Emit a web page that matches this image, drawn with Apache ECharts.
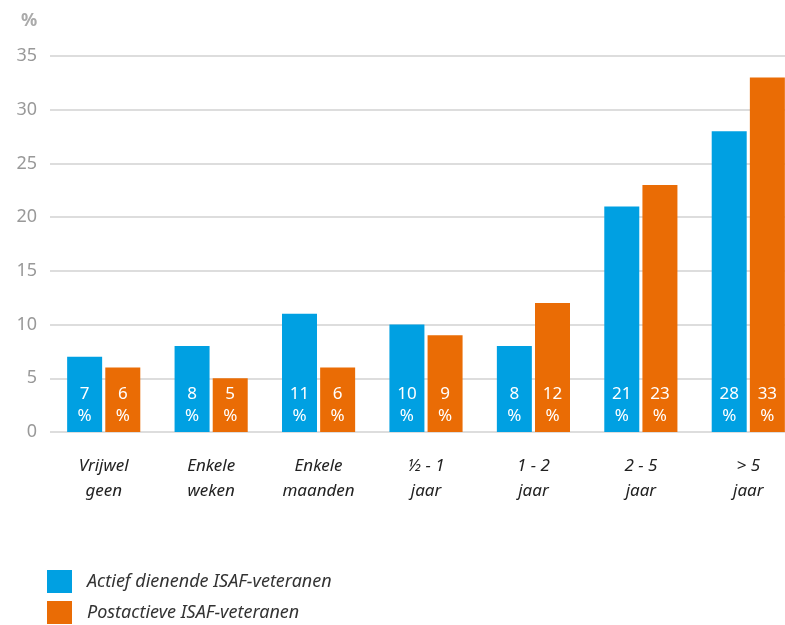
<!DOCTYPE html>
<html>
<head>
    <meta charset="utf-8">
    <title>ISAF-veteranen</title>
    <script src="https://cdn.jsdelivr.net/npm/echarts@6/dist/echarts.min.js"></script>
</head>
<body style="margin:0;background:#fff;">
<div id="main" style="width: 785px;height:625px;"></div>
<script type="text/javascript">
    // categorieën en waarden (%)
    var categories = ['Vrijwel\ngeen', 'Enkele\nweken', 'Enkele\nmaanden', '\u00bd - 1\njaar', '1 - 2\njaar', '2 - 5\njaar', '> 5\njaar'];
    var actief = [7, 8, 11, 10, 8, 21, 28];
    var postactief = [6, 5, 6, 9, 12, 23, 33];
    var yTicks = [0, 5, 10, 15, 20, 25, 30, 35];

    var myChart = echarts.init(document.getElementById('main'));

    var barLabel = {
        show: true,
        position: 'insideBottom',
        distance: 5,
        color: '#fff',
        fontSize: 17,
        lineHeight: 22,
        fontFamily: 'Noto Sans',
        formatter: function (p) { return p.value + '\n%'; }
    };

    var option = {
        animation: false,
        textStyle: { fontFamily: 'Noto Sans' },
        graphic: [{
            type: 'text',
            left: 21,
            top: 12,
            style: { text: '%', fill: '#aaa', font: 'bold 18px "Noto Sans"' }
        }],
        grid: { left: 50, width: 752, top: 56, bottom: 193, outerBoundsMode: 'none', containLabel: false },
        legend: {
            orient: 'vertical',
            left: 47,
            top: 570,
            padding: 0,
            icon: 'rect',
            itemWidth: 25,
            itemHeight: 23,
            itemGap: 8,
            textStyle: { fontSize: 18, fontStyle: 'italic', color: '#333', padding: [0, 0, 0, 10] },
            data: ['Actief dienende ISAF-veteranen', 'Postactieve ISAF-veteranen']
        },
        xAxis: {
            type: 'category',
            data: categories,
            axisLine: { show: false },
            axisTick: { show: false },
            axisLabel: {
                color: '#222',
                fontSize: 17,
                fontStyle: 'italic',
                lineHeight: 25,
                margin: 22
            }
        },
        yAxis: {
            type: 'value',
            min: 0,
            max: 35,
            interval: 5,
            axisLine: { show: false },
            axisTick: { show: false },
            splitLine: { lineStyle: { color: '#ddd', width: 2 } },
            axisLabel: {
                color: '#999',
                fontSize: 18,
                margin: 13,
                formatter: function (v) { return yTicks.indexOf(v) >= 0 ? String(v) : ''; }
            }
        },
        series: [{
            name: 'Actief dienende ISAF-veteranen',
            type: 'bar',
            data: actief,
            barWidth: 35,
            barGap: '9%',
            itemStyle: { color: '#00A0E2' },
            label: barLabel
        }, {
            name: 'Postactieve ISAF-veteranen',
            type: 'bar',
            data: postactief,
            barWidth: 35,
            itemStyle: { color: '#EA6C05' },
            label: barLabel
        }]
    };

    myChart.setOption(option);
</script>
</body>
</html>
